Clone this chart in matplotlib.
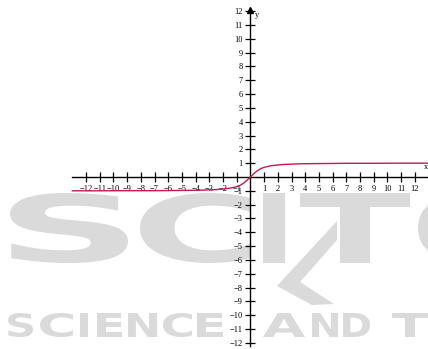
import matplotlib
matplotlib.use("Agg")
import matplotlib.pyplot as plt
from matplotlib.textpath import TextPath
from matplotlib.font_manager import FontProperties
from matplotlib.patches import PathPatch, Polygon
from matplotlib.transforms import Affine2D

# curve values
curve_x = [-13, -11, -9, -8, -7, -6, -5, -4, -3.5, -3, -2.5, -2, -1.5, -1, -0.75, -0.5, -0.25, 0,
           0.25, 0.5, 0.75, 1, 1.5, 2, 2.5, 3, 3.5, 4, 5, 6, 7, 8, 9, 11, 13]
curve_y = [-1.0, -1.0, -0.99, -0.99, -0.99, -0.98, -0.97, -0.96, -0.95, -0.93, -0.91, -0.87, -0.81, -0.70, -0.60, -0.45, -0.24, 0.0,
           0.24, 0.45, 0.60, 0.70, 0.81, 0.87, 0.91, 0.93, 0.95, 0.96, 0.97, 0.98, 0.99, 0.99, 0.99, 1.0, 1.0]

x_ticks = [-12, -11, -10, -9, -8, -7, -6, -5, -4, -3, -2, -1, 1, 2, 3, 4, 5, 6, 7, 8, 9, 10, 11, 12]
y_ticks = [-12, -11, -10, -9, -8, -7, -6, -5, -4, -3, -2, -1, 1, 2, 3, 4, 5, 6, 7, 8, 9, 10, 11, 12]

W, H = 428, 349
plt.rcParams['font.family'] = ['Liberation Serif', 'DejaVu Serif']
plt.rcParams['axes.unicode_minus'] = True

fig = plt.figure(figsize=(W / 100, H / 100), dpi=100)

# ---- background watermark logo (graphic) ----
WM = '#dadada'
fp = FontProperties(family='DejaVu Sans', weight='bold')
to_fig = Affine2D().scale(1.0 / W, 1.0 / H)


def place(ch, x0, x1, yt, yb):
    tp = TextPath((0, 0), ch, size=100, prop=fp)
    ext = tp.get_extents()
    tr = (Affine2D().translate(-ext.x0, -ext.y0)
          .scale((x1 - x0) / ext.width, (yb - yt) / ext.height)
          .translate(x0, H - yb))
    p = PathPatch(tr.transform_path(tp), fc=WM, ec='none',
                  transform=to_fig + fig.transFigure, zorder=-10)
    fig.add_artist(p)


for ch, x0, x1 in [('S', 10, 128), ('C', 140, 250), ('I', 263, 285), ('T', 300, 410), ('O', 418, 520)]:
    place(ch, x0, x1, 193, 263)

for ch, x0, x1 in [('S', 8, 33), ('C', 40, 73), ('I', 80, 88), ('E', 97, 122), ('N', 128, 157),
                   ('C', 163, 192), ('E', 197, 223), ('A', 263, 305), ('N', 312, 338),
                   ('D', 343, 370), ('T', 392, 428)]:
    place(ch, x0, x1, 313, 337)

chev = [(337, 221), (337, 240), (300, 282), (334, 304), (312, 305), (277, 286)]
fig.add_artist(Polygon([(x / W, 1 - y / H) for x, y in chev], closed=True, fc=WM, ec='none',
                       transform=fig.transFigure, zorder=-10))

# ---- axes ----
ax = fig.add_axes([0, 0, 1, 1])
ax.patch.set_alpha(0)
ax.set_xlim(-18.28, 12.96)
ax.set_ylim(-12.44, 12.8)

for s in ['top', 'right']:
    ax.spines[s].set_visible(False)
ax.spines['left'].set_position('zero')
ax.spines['bottom'].set_position('zero')
ax.spines['bottom'].set_bounds(-13, 12.96)
ax.spines['left'].set_bounds(-12.2, 12.1)
ax.spines['left'].set_linewidth(1.0)
ax.spines['bottom'].set_linewidth(1.0)

ax.set_xticks(x_ticks)
ax.set_yticks(y_ticks)
ax.set_xticklabels([str(v).replace('-', '\u2212') for v in x_ticks])
ax.set_yticklabels([str(v).replace('-', '\u2212') for v in y_ticks])
ax.tick_params(axis='both', direction='inout', length=7, width=0.9, labelsize=6, pad=2)

ax.plot([0], [12.1], marker='^', color='black', markersize=4, clip_on=False)
ax.text(0.35, 11.75, "y", fontsize=6, ha='left', va='center')
ax.text(12.85, 0.45, "x", fontsize=6, ha='center', va='bottom')

ax.plot(curve_x, curve_y, color='#c8174f', linewidth=1.0, zorder=3)

fig.savefig("out.png", dpi=100)
